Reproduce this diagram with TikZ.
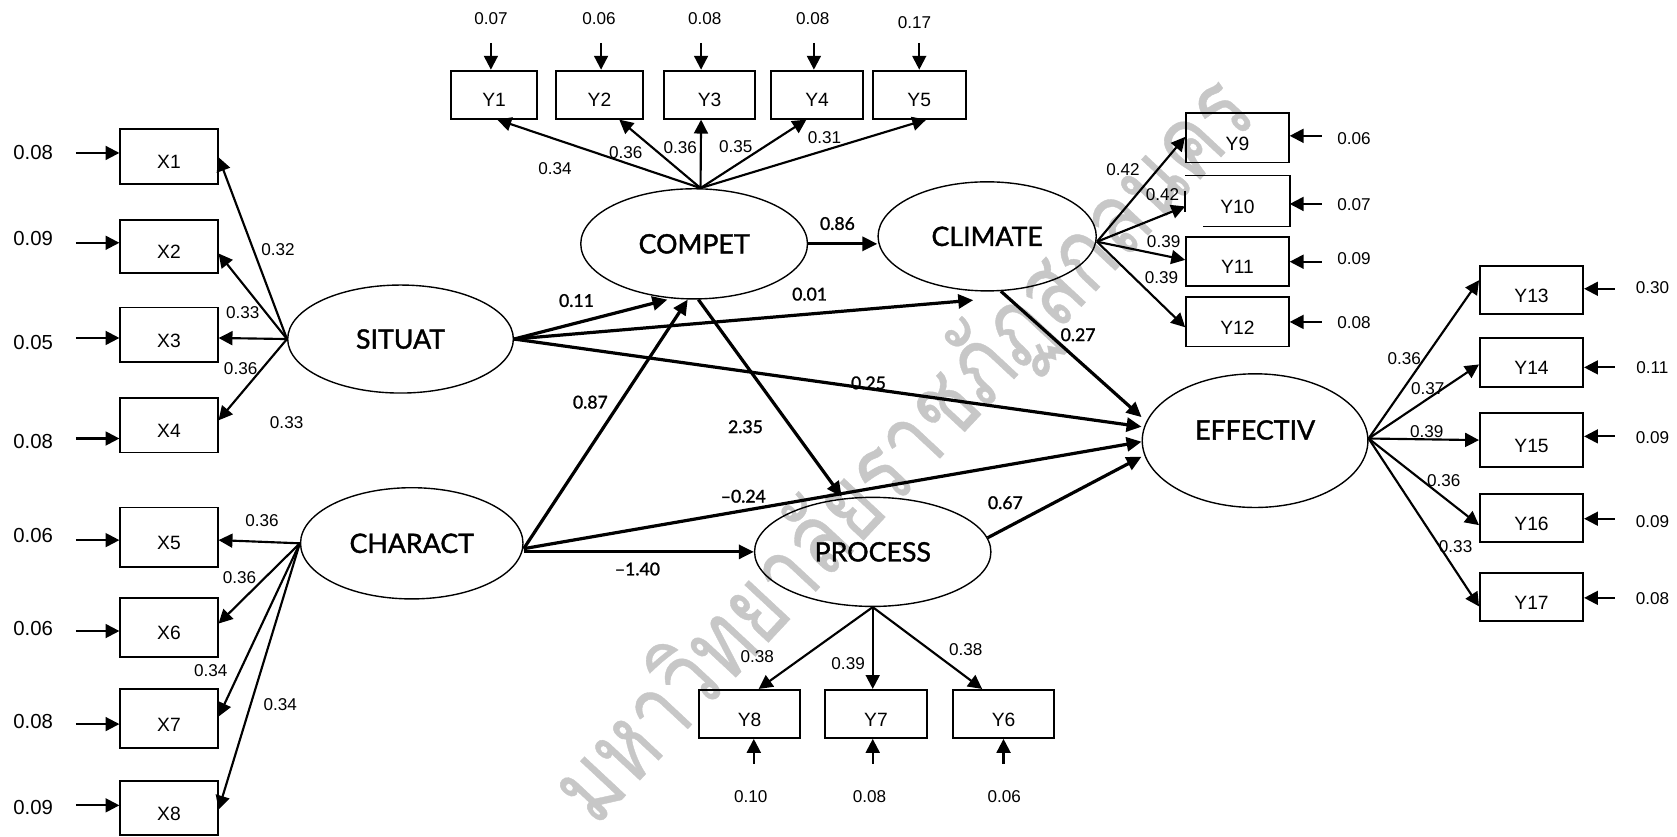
\documentclass[tikz,border=0pt]{standalone}
\usepackage{fontspec}
\setmainfont{Liberation Sans}
\newfontfamily\latfont[FakeBold=1.4]{Lato}
\newfontfamily\thaifont[Script=Thai,FakeBold=0.4]{Loma}
\usetikzlibrary{shapes.geometric,arrows.meta}

\tikzset{
  obs/.style={draw, line width=1.7pt, rectangle, inner sep=0pt,
    minimum width=#1, text height=23pt, text depth=0pt,
    font=\fontsize{18}{20}\selectfont},
  lat/.style={draw, ellipse, line width=1.3pt, inner sep=0pt,
    font=\latfont\fontsize{25}{28}\selectfont},
  ind/.style={line width=2pt, -{Triangle[length=13pt,width=13pt]}},
  str/.style={line width=3pt, -{Triangle[length=14pt,width=13pt]}},
  ld/.style={font=\fontsize{16}{18}\selectfont, inner sep=0pt},
  evl/.style={font=\fontsize{19}{21}\selectfont, inner sep=0pt},
  pc/.style={font=\latfont\fontsize{16.5}{18}\selectfont, inner sep=0pt},
}

\begin{document}
\begin{tikzpicture}[x=1pt,y=-1pt]
\useasboundingbox (0,0) rectangle (1568,782);
\fill[white] (0,0) rectangle (1568,782);

% watermark
\node[rotate=47, xscale=0.78, text=black!22, inner sep=0pt,
  font=\thaifont\fontsize{95}{95}\selectfont] (wm) at (846,422)
  {มหาวิทยาลัยราชภัฏสกลนคร};

% latent variables
\node[lat, minimum width=211pt, minimum height=101pt] (sit) at (374.5,317) {SITUAT};
\node[lat, minimum width=208pt, minimum height=104pt] (char) at (385,508) {CHARACT};
\node[lat, minimum width=212pt, minimum height=103pt] (comp) at (649,228) {COMPET};
\node[lat, minimum width=204pt, minimum height=102pt] (clim) at (923,221) {CLIMATE};
\node[lat, minimum width=221pt, minimum height=102pt] (proc) at (816,516) {PROCESS};
\node[lat, minimum width=211pt, minimum height=125pt, text height=18pt, text depth=20pt] (eff) at (1173.5,412) {EFFECTIV};

% exogenous indicators X1-X8 with errors
\foreach \i/\cy/\h/\ay/\ly/\v in {1/146.3/51pt/143/143/0.08, 2/230.5/49pt/227/223/0.09,
    3/313/51pt/316/320/0.05, 4/397.5/51pt/410/413/0.08, 5/502.5/56pt/505/501/0.06,
    6/586.5/55pt/590/588/0.06, 7/672/55pt/677/675/0.08, 8/755.5/51pt/753/755/0.09}{
  \node[obs=91pt, minimum height=\h] (x\i) at (158,\cy) {X\i};
  \coordinate (ex\i) at (71,\ay);
  \draw[ind] (ex\i) -- (ex\i -| x\i.west);
  \node[evl] (evx\i) at (31,\ly) {\v};
}
\foreach \i/\s in {1/-0.7pt, 2/-6.5pt, 3/-3pt, 4/4.5pt}
  \draw[ind] (sit.west) -- ([yshift=\s]x\i.east);
\foreach \i/\s in {5/-2.5pt, 6/3.5pt, 7/2pt, 8/-1.5pt}
  \draw[ind] (char.west) -- ([yshift=\s]x\i.east);
\foreach \n/\x/\y/\v in {a/260/233/0.32, b/227/292/0.33, c/225/345/0.36, d/268/395/0.33,
    e/245/487/0.36, f/224/540/0.36, g/197/627/0.34, h/262/659/0.34}
  \node[ld] (lx\n) at (\x,\y) {\v};

% COMPET indicators Y1-Y5
\foreach \i/\cx/\w/\ex/\tx/\lx/\ly/\v in {1/462/80pt/-3pt/3pt/459/17/0.07,
    2/560.5/81pt/1.5pt/18.5pt/560/17/0.06, 3/663.5/85pt/-8pt/-8pt/659/17/0.08,
    4/764/86pt/-3pt/-10pt/760/17/0.08, 5/859.5/87pt/0pt/6.5pt/855/21/0.17}{
  \node[obs=\w, minimum height=45pt] (y\i) at (\cx,88.5) {Y\i};
  \coordinate (ey\i) at ([xshift=\ex]y\i.north |- 0,40);
  \draw[ind] (ey\i) -- ([xshift=\ex]y\i.north);
  \node[ld] (evy\i) at (\lx,\ly) {\v};
  \draw[ind] ([xshift=6pt]comp.north) -- ([xshift=\tx]y\i.south);
}
\foreach \n/\x/\y/\v in {a/519/158/0.34, b/585/143/0.36, c/636/138/0.36,
    d/688/137/0.35, e/771/129/0.31}
  \node[ld] (lc\n) at (\x,\y) {\v};

% PROCESS indicators Y6-Y8
\foreach \i/\cx/\tx/\ex/\lx/\v in {8/700.8/8.5pt/4pt/702/0.10, 7/819/-3pt/-3pt/813/0.08,
    6/938.3/-20pt/0pt/939/0.06}{
  \node[obs=95pt, minimum height=45pt] (y\i) at (\cx,667.5) {Y\i};
  \coordinate (ey\i) at ([xshift=\ex]y\i.south |- 0,714);
  \draw[ind] (ey\i) -- ([xshift=\ex]y\i.south);
  \node[ld] (evy\i) at (\lx,745) {\v};
  \draw[ind] (proc.south) -- ([xshift=\tx]y\i.north);
}
\foreach \n/\x/\y/\v in {a/708/614/0.38, b/793/620/0.39, c/903/607/0.38}
  \node[ld] (lp\n) at (\x,\y) {\v};

% CLIMATE indicators Y9-Y12 (Y10 frame drawn with gaps)
\node[obs=96pt, minimum height=46pt] (y9) at (1157,129) {Y9};
\node[obs=96pt, minimum height=46pt, draw=none] (y10) at (1157,188) {Y10};
\draw[line width=1.7pt] ([xshift=17pt]y10.south west) -- (y10.south east)
  -- (y10.north east) -- (y10.north west);
\draw[line width=1.7pt] ([yshift=-14pt]y10.north west) -- ([yshift=-34pt]y10.north west);
\node[obs=96pt, minimum height=46pt] (y11) at (1157,244.5) {Y11};
\node[obs=96pt, minimum height=46pt] (y12) at (1157,301) {Y12};
\foreach \i/\ts/\ay/\ly/\v in {9/1pt/127/130/0.06, 10/-5pt/190.7/191/0.07,
    11/1.5pt/244.7/242/0.09, 12/-5pt/301/302/0.08}{
  \coordinate (ey\i) at (1236,\ay);
  \draw[ind] (ey\i) -- (ey\i -| y\i.east);
  \node[ld] (evy\i) at (1266,\ly) {\v};
  \draw[ind] ([yshift=-5pt]clim.east) -- ([yshift=\ts]y\i.west);
}
\foreach \n/\x/\y/\v in {a/1050/159/0.42, b/1087/182/0.42, c/1088/226/0.39, d/1086/260/0.39}
  \node[ld] (lm\n) at (\x,\y) {\v};

% EFFECTIV indicators Y13-Y17
\foreach \i/\cy/\h/\ts/\ay/\ly/\v in {13/271/45pt/9pt/270/269/0.30,
    14/338.75/45.5pt/-2pt/343.5/344/0.11, 15/411.5/51pt/0pt/408/409/0.09,
    16/484.5/45pt/-6.5pt/485/488/0.09, 17/558.5/45pt/-8.5pt/559/560/0.08}{
  \node[obs=96.5pt, minimum height=\h] (y\i) at (1432,\cy) {Y\i};
  \coordinate (ey\i) at (1510,\ay);
  \draw[ind] (ey\i) -- (ey\i -| y\i.east);
  \node[ld] (evy\i) at (1545,\ly) {\v};
  \draw[ind] ([yshift=2pt]eff.east) -- ([yshift=\ts]y\i.west);
}
\foreach \n/\x/\y/\v in {a/1313/335/0.36, b/1335/363/0.37, c/1334/404/0.39,
    d/1350/449/0.36, e/1361/511/0.33}
  \node[ld] (le\n) at (\x,\y) {\v};

% structural paths
\draw[str] (comp.east) -- (comp.east -| clim.west);
\draw[str] (sit.east) -- ([xshift=-25pt]comp.south);
\draw[str] (sit.east) -- ([xshift=-13pt,yshift=-8pt]clim.south);
\draw[str] (sit.east) -- ([yshift=13pt]eff.west);
\draw[str] ([yshift=-5pt]char.east) -- ([xshift=-6pt]comp.south);
\draw[str] ([yshift=-5pt]char.east) -- ([yshift=-1pt]eff.west);
\draw[str] (char.east |- proc.west) -- (proc.west);
\draw[str] ([xshift=4pt]comp.south) -- ([xshift=-29pt]proc.north);
\draw[str] (clim.284) -- ([yshift=22pt]eff.west);
\draw[str] (proc.7) -- ([yshift=-15pt]eff.west);

\node[pc] (p1) at (783,209) {0.86};
\node[pc] (p2) at (539,281) {0.11};
\node[pc] (p3) at (757,275) {0.01};
\node[pc] (p4) at (812,358) {0.25};
\node[pc] (p5) at (552,376) {0.87};
\node[pc] (p6) at (697,399) {2.35};
\node[pc] (p7) at (695,464) {–0.24};
\node[pc] (p8) at (596,532) {–1.40};
\node[pc] (p9) at (1008,313) {0.27};
\node[pc] (p10) at (940,470) {0.67};
\end{tikzpicture}
\end{document}
